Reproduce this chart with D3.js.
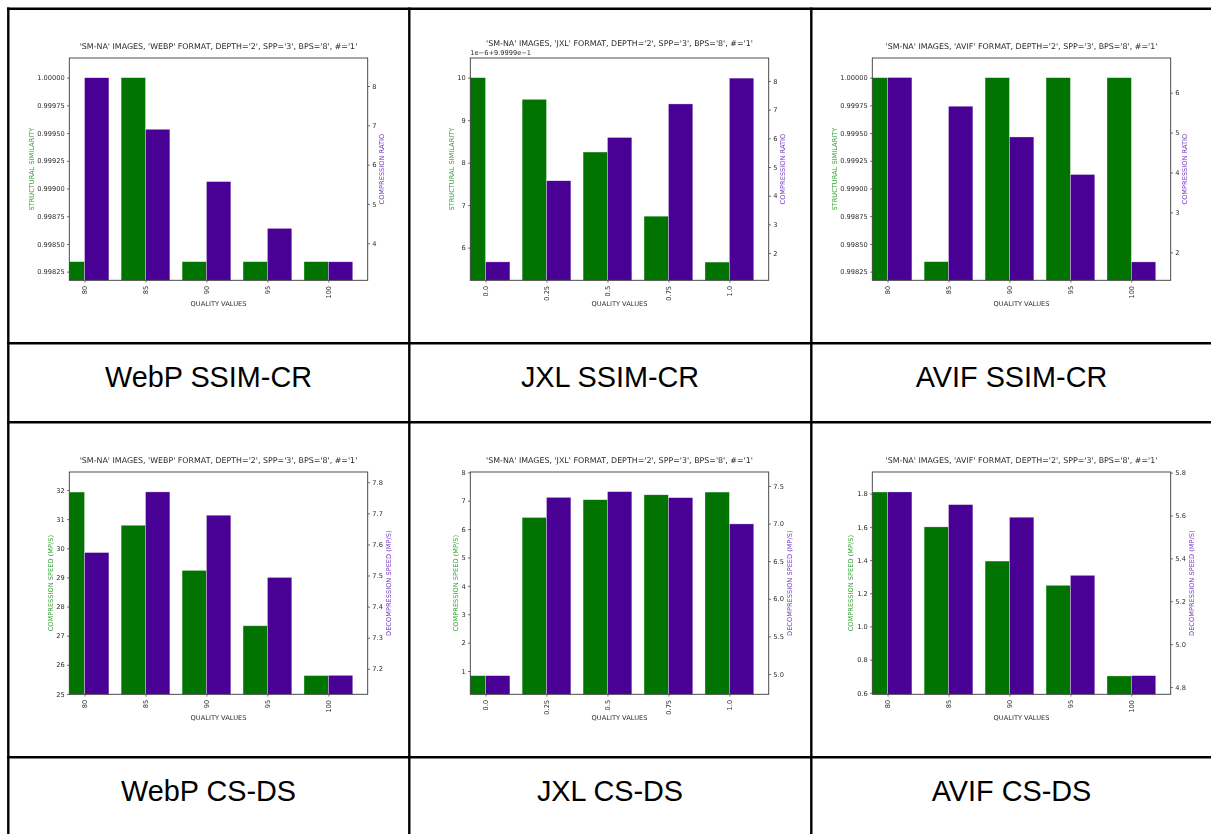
<!DOCTYPE html>
<html>
<head>
<meta charset="utf-8">
<script src="https://cdn.jsdelivr.net/npm/d3@7"></script>
<style>
  html, body { margin: 0; padding: 0; background: #fff; }
  svg { display: block; }
</style>
</head>
<body>
<svg id="board" width="1211" height="834"></svg>
<script>
// ---------------- data ----------------
const qualityWebp = ["80", "85", "90", "95", "100"];
const qualityJxl  = ["0.0", "0.25", "0.5", "0.75", "1.0"];
const qualityAvif = ["80", "85", "90", "95", "100"];

// structural similarity (left) and compression ratio (right)
const webpSsim  = [0.99834, 1.00000, 0.99834, 0.99834, 0.99834];
const webpRatio = [8.21, 6.90, 5.57, 4.38, 3.53];
const jxlSsim   = [1.00000000, 0.99999949, 0.99999825, 0.99999674, 0.99999566];
const jxlRatio  = [1.69, 4.52, 6.03, 7.20, 8.10];
const avifSsim  = [1.00000, 0.99834, 1.00000, 1.00000, 1.00000];
const avifRatio = [6.38, 5.66, 4.89, 3.95, 1.76];

// compression speed (left) and decompression speed (right), MP/s
const webpCompSpeed   = [31.93, 30.79, 29.24, 27.34, 25.63];
const webpDecompSpeed = [7.574, 7.769, 7.694, 7.494, 7.179];
const jxlCompSpeed    = [0.835, 6.41, 7.035, 7.21, 7.305];
const jxlDecompSpeed  = [4.978, 7.349, 7.425, 7.345, 6.996];
const avifCompSpeed   = [1.81, 1.60, 1.394, 1.248, 0.702];
const avifDecompSpeed = [5.71, 5.651, 5.592, 5.321, 4.853];

// axis limits
const webpSsimRange   = [0.9981718, 1.0001774];
const webpRatioRange  = [3.059, 8.712];
const jxlSsimRange    = [0.999995231, 1.000000463];
const jxlRatioRange   = [1.047, 8.802];
const avifSsimRange   = [0.9981718, 1.0001774];
const avifRatioRange  = [1.299, 6.868];
const webpCompRange   = [24.987, 32.618];
const webpDecompRange = [7.118, 7.833];
const jxlCompRange    = [0.179, 8.012];
const jxlDecompRange  = [4.730, 7.686];
const avifCompRange   = [0.5914, 1.9305];
const avifDecompRange = [4.766, 5.803];

// tick values
const ssimTicks        = [0.99825, 0.99850, 0.99875, 0.99900, 0.99925, 0.99950, 0.99975, 1.00000];
const jxlSsimTicks     = [6, 7, 8, 9, 10];           // offsets in 1e-6 above 0.99999
const webpRatioTicks   = [4, 5, 6, 7, 8];
const jxlRatioTicks    = [2, 3, 4, 5, 6, 7, 8];
const avifRatioTicks   = [2, 3, 4, 5, 6];
const webpCompTicks    = [25, 26, 27, 28, 29, 30, 31, 32];
const webpDecompTicks  = [7.2, 7.3, 7.4, 7.5, 7.6, 7.7, 7.8];
const jxlCompTicks     = [1, 2, 3, 4, 5, 6, 7, 8];
const jxlDecompTicks   = [5.0, 5.5, 6.0, 6.5, 7.0, 7.5];
const avifCompTicks    = [0.6, 0.8, 1.0, 1.2, 1.4, 1.6, 1.8];
const avifDecompTicks  = [4.8, 5.0, 5.2, 5.4, 5.6, 5.8];

const captions = [
  ["WebP SSIM-CR", "JXL SSIM-CR", "AVIF SSIM-CR"],
  ["WebP CS-DS", "JXL CS-DS", "AVIF CS-DS"]
];

// ---------------- layout ----------------
const svg = d3.select("#board");
const colX = [8, 409, 811, 1212];
const rowY = [8, 422];
const capRowY = [343, 757];

const AX_L = 61.3, AX_R = 359.7, AX_T = 50, AX_B = 272.3;
const xDomain = [-0.25, 4.645];
const BAR_W = 0.4;

const GREEN = "#017301", PURPLE = "#4a0095";
const GREEN_TXT = "#2e9e2e", PURPLE_TXT = "#7432c4";
const INK = "#2a2a2a";
const MPL_FONT = "'DejaVu Sans', sans-serif";
const TICK_FS = 6.65, TITLE_FS = 7.9;

const f5 = d3.format(".5f"), fd = d3.format("d"), f1 = d3.format(".1f");

// slight softening of the plotted figures (they are raster plots in the table)
svg.append("defs").append("filter").attr("id", "soft")
  .attr("x", "-2%").attr("y", "-2%").attr("width", "104%").attr("height", "104%")
  .append("feGaussianBlur").attr("stdDeviation", 0.35);

const panels = [
  { row: 0, col: 0, cats: qualityWebp, fmtName: "WEBP",
    left:  { values: webpSsim, domain: webpSsimRange, ticks: ssimTicks, fmt: f5, label: "STRUCTURAL SIMILARITY" },
    right: { values: webpRatio, domain: webpRatioRange, ticks: webpRatioTicks, fmt: fd, label: "COMPRESSION RATIO" } },
  { row: 0, col: 1, cats: qualityJxl, fmtName: "JXL", offsetText: "1e\u22126+9.9999e\u22121",
    left:  { values: jxlSsim, domain: jxlSsimRange,
             ticks: jxlSsimTicks.map(k => 0.99999 + k * 1e-6),
             fmt: v => fd(Math.round((v - 0.99999) * 1e6)), label: "STRUCTURAL SIMILARITY" },
    right: { values: jxlRatio, domain: jxlRatioRange, ticks: jxlRatioTicks, fmt: fd, label: "COMPRESSION RATIO" } },
  { row: 0, col: 2, cats: qualityAvif, fmtName: "AVIF",
    left:  { values: avifSsim, domain: avifSsimRange, ticks: ssimTicks, fmt: f5, label: "STRUCTURAL SIMILARITY" },
    right: { values: avifRatio, domain: avifRatioRange, ticks: avifRatioTicks, fmt: fd, label: "COMPRESSION RATIO" } },
  { row: 1, col: 0, cats: qualityWebp, fmtName: "WEBP",
    left:  { values: webpCompSpeed, domain: webpCompRange, ticks: webpCompTicks, fmt: fd, label: "COMPRESSION SPEED (MP/S)" },
    right: { values: webpDecompSpeed, domain: webpDecompRange, ticks: webpDecompTicks, fmt: f1, label: "DECOMPRESSION SPEED (MP/S)" } },
  { row: 1, col: 1, cats: qualityJxl, fmtName: "JXL",
    left:  { values: jxlCompSpeed, domain: jxlCompRange, ticks: jxlCompTicks, fmt: fd, label: "COMPRESSION SPEED (MP/S)" },
    right: { values: jxlDecompSpeed, domain: jxlDecompRange, ticks: jxlDecompTicks, fmt: f1, label: "DECOMPRESSION SPEED (MP/S)" } },
  { row: 1, col: 2, cats: qualityAvif, fmtName: "AVIF",
    left:  { values: avifCompSpeed, domain: avifCompRange, ticks: avifCompTicks, fmt: f1, label: "COMPRESSION SPEED (MP/S)" },
    right: { values: avifDecompSpeed, domain: avifDecompRange, ticks: avifDecompTicks, fmt: f1, label: "DECOMPRESSION SPEED (MP/S)" } }
];

function styleAxis(sel) {
  sel.select(".domain").remove();
  sel.selectAll(".tick line").attr("stroke", "#3a3a3a").attr("stroke-width", 0.7);
  sel.selectAll(".tick text")
    .attr("fill", INK)
    .style("font-family", MPL_FONT)
    .style("font-size", TICK_FS + "px");
}

function drawPanel(p, idx) {
  const g = svg.append("g")
    .attr("transform", `translate(${colX[p.col]},${rowY[p.row]})`)
    .attr("filter", "url(#soft)");
  const x  = d3.scaleLinear().domain(xDomain).range([AX_L, AX_R]);
  const yl = d3.scaleLinear().domain(p.left.domain).range([AX_B, AX_T]);
  const yr = d3.scaleLinear().domain(p.right.domain).range([AX_B, AX_T]);

  const clipId = "plotclip" + idx;
  g.append("clipPath").attr("id", clipId)
    .append("rect").attr("x", AX_L).attr("y", AX_T)
    .attr("width", AX_R - AX_L).attr("height", AX_B - AX_T);

  const plot = g.append("g").attr("clip-path", `url(#${clipId})`);
  const idxs = d3.range(p.cats.length);

  plot.selectAll("rect.left-bar").data(idxs).join("rect")
    .attr("class", "left-bar")
    .attr("x", i => x(i - BAR_W))
    .attr("width", i => x(i) - x(i - BAR_W))
    .attr("y", i => yl(p.left.values[i]))
    .attr("height", i => AX_B + 2 - yl(p.left.values[i]))
    .attr("fill", GREEN)
    .attr("stroke", "#ffffff").attr("stroke-opacity", 0.55).attr("stroke-width", 0.6);

  plot.selectAll("rect.right-bar").data(idxs).join("rect")
    .attr("class", "right-bar")
    .attr("x", i => x(i))
    .attr("width", i => x(i + BAR_W) - x(i))
    .attr("y", i => yr(p.right.values[i]))
    .attr("height", i => AX_B + 2 - yr(p.right.values[i]))
    .attr("fill", PURPLE)
    .attr("stroke", "#ffffff").attr("stroke-opacity", 0.55).attr("stroke-width", 0.6);

  // frame
  g.append("rect")
    .attr("x", AX_L).attr("y", AX_T)
    .attr("width", AX_R - AX_L).attr("height", AX_B - AX_T)
    .attr("fill", "none").attr("stroke", "#3a3a3a").attr("stroke-width", 0.9);

  // axes
  const leftAxis = g.append("g").attr("transform", `translate(${AX_L},0)`)
    .call(d3.axisLeft(yl).tickValues(p.left.ticks).tickFormat(p.left.fmt)
      .tickSizeInner(2.3).tickSizeOuter(0).tickPadding(2.3))
    .call(styleAxis);
  const rightAxis = g.append("g").attr("transform", `translate(${AX_R},0)`)
    .call(d3.axisRight(yr).tickValues(p.right.ticks).tickFormat(p.right.fmt)
      .tickSizeInner(2.3).tickSizeOuter(0).tickPadding(2.3))
    .call(styleAxis);
  const bottomAxis = g.append("g").attr("transform", `translate(0,${AX_B})`)
    .call(d3.axisBottom(x).tickValues(idxs).tickFormat(i => p.cats[i])
      .tickSizeInner(2.3).tickSizeOuter(0))
    .call(styleAxis);
  bottomAxis.selectAll(".tick text")
    .attr("transform", "rotate(-90)")
    .attr("x", -5.6).attr("y", 0).attr("dy", "0.33em")
    .attr("text-anchor", "end");

  // axis titles
  const midY = (AX_T + AX_B) / 2;
  const lb = leftAxis.node().getBBox();
  const rb = rightAxis.node().getBBox();
  const leftLabelX = AX_L + lb.x - 3.7;
  const rightLabelX = AX_R + rb.x + rb.width + 7.8;

  g.append("text")
    .attr("transform", `translate(${leftLabelX},${midY}) rotate(-90)`)
    .attr("text-anchor", "middle")
    .attr("fill", GREEN_TXT)
    .style("font-family", MPL_FONT).style("font-size", TICK_FS + "px")
    .text(p.left.label);

  g.append("text")
    .attr("transform", `translate(${rightLabelX},${midY}) rotate(-90)`)
    .attr("text-anchor", "middle")
    .attr("fill", PURPLE_TXT)
    .style("font-family", MPL_FONT).style("font-size", TICK_FS + "px")
    .text(p.right.label);

  g.append("text")
    .attr("x", (AX_L + AX_R) / 2).attr("y", 298)
    .attr("text-anchor", "middle")
    .attr("fill", INK)
    .style("font-family", MPL_FONT).style("font-size", TICK_FS + "px")
    .text("QUALITY VALUES");

  // title
  g.append("text")
    .attr("x", (AX_L + AX_R) / 2).attr("y", p.offsetText ? 38 : 40.7)
    .attr("text-anchor", "middle")
    .attr("fill", INK)
    .style("font-family", MPL_FONT).style("font-size", TITLE_FS + "px")
    .text(`'SM-NA' IMAGES, '${p.fmtName}' FORMAT, DEPTH='2', SPP='3', BPS='8', #='1'`);

  if (p.offsetText) {
    g.append("text")
      .attr("x", AX_L).attr("y", 47.2)
      .attr("fill", INK)
      .style("font-family", MPL_FONT).style("font-size", TICK_FS + "px")
      .text(p.offsetText);
  }
}

panels.forEach(drawPanel);

// captions
captions.forEach((row, r) => {
  row.forEach((txt, c) => {
    svg.append("text")
      .attr("x", (colX[c] + colX[c + 1]) / 2)
      .attr("y", capRowY[r] + 43.7)
      .attr("text-anchor", "middle")
      .attr("fill", "#000")
      .style("font-family", "'Liberation Sans', Arial, sans-serif")
      .style("font-size", "28.8px")
      .text(txt);
  });
});

// table rules
const rules = svg.append("g").attr("stroke", "#000").attr("stroke-width", 2.4);
[8.3, 409.3, 811.3].forEach(xv =>
  rules.append("line").attr("x1", xv).attr("x2", xv).attr("y1", 7.5).attr("y2", 834));
[8.7, 343.3, 422.2, 757.2].forEach(yv =>
  rules.append("line").attr("x1", 7.1).attr("x2", 1211).attr("y1", yv).attr("y2", yv));
</script>
</body>
</html>
